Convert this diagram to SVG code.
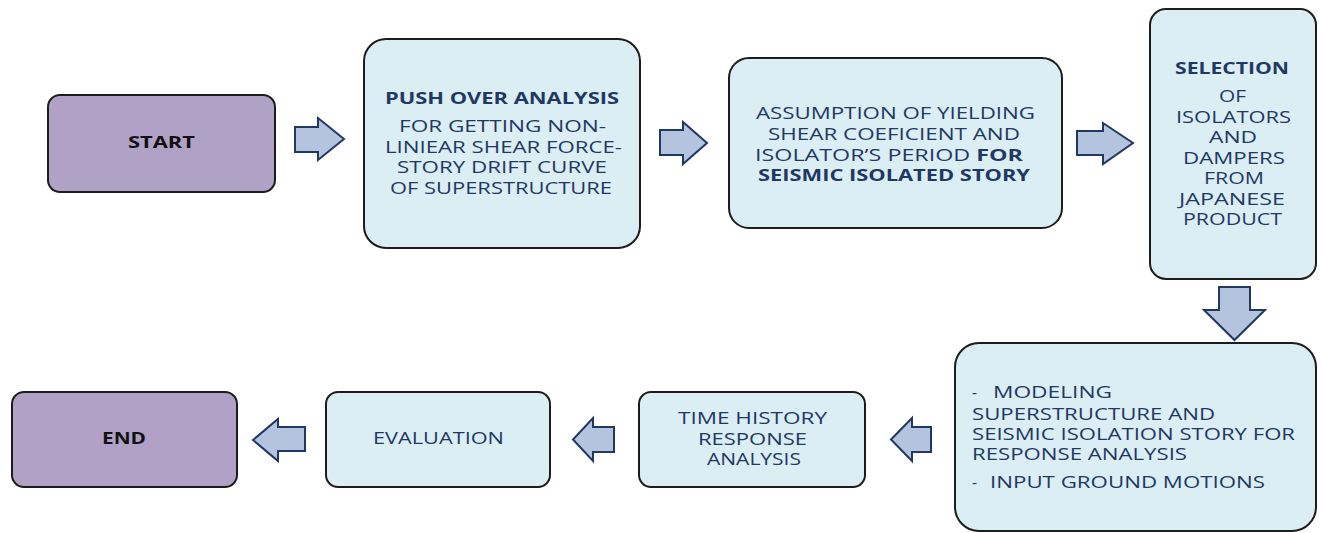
<svg xmlns="http://www.w3.org/2000/svg" width="1322" height="533" viewBox="0 0 1322 533">
<style>
.bg{fill:#ffffff}
.term{fill:#b2a1c7;stroke:#1c1c1c;stroke-width:2}
.step{fill:#dbeef4;stroke:#1c1c1c;stroke-width:2}
.arr{fill:#b4c4de;stroke:#1f3864;stroke-width:2;stroke-linejoin:miter}
text{font-family:"Open Sans","Liberation Sans",Arial,sans-serif;font-size:15.5px;fill:#1f3864}
.b{font-weight:bold}
.k{fill:#111111;font-weight:bold}
</style>
<rect class="bg" x="0" y="0" width="1322" height="533"/>
<g id="connectors">
<polygon class="arr" points="295,127 318,127 318,118 344,139 318,160 318,152 295,152"/>
<polygon class="arr" points="660,130 683,130 683,122 707,143 683,164 683,155 660,155"/>
<polygon class="arr" points="1077,131 1103,131 1103,123 1133,143 1103,164 1103,155 1077,155"/>
<polygon class="arr" points="1219,287 1250,287 1250,310 1265,310 1234.5,340 1204,310 1219,310"/>
<polygon class="arr" points="931,427 912,427 912,418 891,439.5 912,461 912,452 931,452"/>
<polygon class="arr" points="614,427 593,427 593,418 573,439.5 593,461 593,452 614,452"/>
<polygon class="arr" points="305,427 278,427 278,419 253,440 278,461 278,451 305,451"/>
</g>
<g id="start">
<rect class="term" x="48" y="95" width="227" height="97" rx="12"/>
<text class="k" x="128" y="148" textLength="67" lengthAdjust="spacingAndGlyphs">START</text>
</g>
<g id="pushover">
<rect class="step" x="364" y="39" width="276" height="209" rx="22"/>
<text class="b" x="385" y="104" textLength="234" lengthAdjust="spacingAndGlyphs">PUSH OVER ANALYSIS</text>
<text x="399" y="132" textLength="207" lengthAdjust="spacingAndGlyphs">FOR GETTING NON-</text>
<text x="385" y="153" textLength="237" lengthAdjust="spacingAndGlyphs">LINIEAR SHEAR FORCE-</text>
<text x="397" y="173" textLength="210" lengthAdjust="spacingAndGlyphs">STORY DRIFT CURVE</text>
<text x="390" y="194" textLength="222" lengthAdjust="spacingAndGlyphs">OF SUPERSTRUCTURE</text>
</g>
<g id="assumption">
<rect class="step" x="729" y="58" width="333" height="170" rx="20"/>
<text x="756" y="119" textLength="279" lengthAdjust="spacingAndGlyphs">ASSUMPTION OF YIELDING</text>
<text x="768" y="140" textLength="252" lengthAdjust="spacingAndGlyphs">SHEAR COEFICIENT AND</text>
<text x="755" y="161" textLength="268" lengthAdjust="spacingAndGlyphs">ISOLATOR’S PERIOD <tspan class="b">FOR</tspan></text>
<text class="b" x="758" y="181" textLength="272" lengthAdjust="spacingAndGlyphs">SEISMIC ISOLATED STORY</text>
</g>
<g id="selection">
<rect class="step" x="1150" y="9" width="166" height="270" rx="16"/>
<text class="b" x="1175" y="74" textLength="114" lengthAdjust="spacingAndGlyphs">SELECTION</text>
<text x="1219" y="102" textLength="27" lengthAdjust="spacingAndGlyphs">OF</text>
<text x="1176" y="123" textLength="115" lengthAdjust="spacingAndGlyphs">ISOLATORS</text>
<text x="1209" y="143" textLength="48" lengthAdjust="spacingAndGlyphs">AND</text>
<text x="1183" y="164" textLength="102" lengthAdjust="spacingAndGlyphs">DAMPERS</text>
<text x="1204" y="184" textLength="60" lengthAdjust="spacingAndGlyphs">FROM</text>
<text x="1179" y="205" textLength="106" lengthAdjust="spacingAndGlyphs">JAPANESE</text>
<text x="1183" y="225" textLength="99" lengthAdjust="spacingAndGlyphs">PRODUCT</text>
</g>
<g id="modeling">
<rect class="step" x="955" y="343" width="361" height="188" rx="24"/>
<text y="398"><tspan x="972">-</tspan><tspan x="993" textLength="119" lengthAdjust="spacingAndGlyphs">MODELING</tspan></text>
<text x="972" y="420" textLength="243" lengthAdjust="spacingAndGlyphs">SUPERSTRUCTURE AND</text>
<text x="972" y="440" textLength="323" lengthAdjust="spacingAndGlyphs">SEISMIC ISOLATION STORY FOR</text>
<text x="972" y="460" textLength="215" lengthAdjust="spacingAndGlyphs">RESPONSE ANALYSIS</text>
<text y="488"><tspan x="972">-</tspan><tspan x="990" textLength="275" lengthAdjust="spacingAndGlyphs">INPUT GROUND MOTIONS</tspan></text>
</g>
<g id="timehistory">
<rect class="step" x="639" y="392" width="226" height="95" rx="12"/>
<text x="678" y="424" textLength="149" lengthAdjust="spacingAndGlyphs">TIME HISTORY</text>
<text x="698" y="445" textLength="109" lengthAdjust="spacingAndGlyphs">RESPONSE</text>
<text x="707" y="465" textLength="94" lengthAdjust="spacingAndGlyphs">ANALYSIS</text>
</g>
<g id="evaluation">
<rect class="step" x="326" y="392" width="224" height="95" rx="12"/>
<text x="373" y="444" textLength="131" lengthAdjust="spacingAndGlyphs">EVALUATION</text>
</g>
<g id="end">
<rect class="term" x="12" y="392" width="225" height="95" rx="12"/>
<text class="k" x="102" y="444" textLength="44" lengthAdjust="spacingAndGlyphs">END</text>
</g>
</svg>
